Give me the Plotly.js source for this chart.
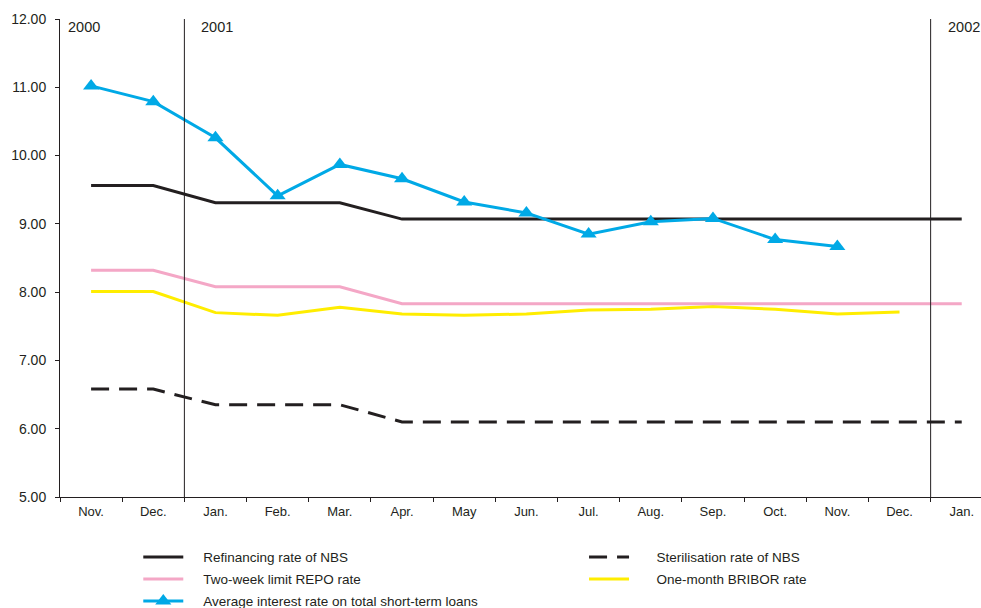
<!DOCTYPE html>
<html>
<head>
<meta charset="utf-8">
<script src="https://cdn.plot.ly/plotly-3.0.1.min.js"></script>
<style>html,body{margin:0;padding:0;background:#fff;}#chart{width:981px;height:608px;}</style>
</head>
<body>
<div id="chart"></div>
<script>
// Months from Nov. 2000 to Jan. 2002
var months = ['Nov.','Dec.','Jan.','Feb.','Mar.','Apr.','May','Jun.','Jul.','Aug.','Sep.','Oct.','Nov.','Dec.','Jan.'];
var years = ['2000','2001','2002'];

var refinancing   = [9.56, 9.56, 9.31, 9.31, 9.31, 9.07, 9.07, 9.07, 9.07, 9.07, 9.07, 9.07, 9.07, 9.07, 9.07];
var sterilisation = [6.58, 6.58, 6.35, 6.35, 6.35, 6.10, 6.10, 6.10, 6.10, 6.10, 6.10, 6.10, 6.10, 6.10, 6.10];
var repo          = [8.32, 8.32, 8.08, 8.08, 8.08, 7.83, 7.83, 7.83, 7.83, 7.83, 7.83, 7.83, 7.83, 7.83, 7.83];
var bribor        = [8.01, 8.01, 7.70, 7.66, 7.78, 7.68, 7.66, 7.68, 7.74, 7.75, 7.79, 7.75, 7.68, 7.71];
var avgLoans      = [11.02, 10.79, 10.26, 9.41, 9.87, 9.66, 9.32, 9.16, 8.85, 9.03, 9.08, 8.77, 8.67];

var idx = function(arr){ return arr.map(function(_, i){ return i; }); };
var ink = '#231F20';
var font = 'Liberation Sans, Arial, Helvetica, sans-serif';
var gap1 = '\u00a0\u00a0\u00a0\u00a0';
var gap2 = '\u00a0\u00a0\u00a0\u00a0\u00a0\u00a0';

var traces = [
  {x: idx(sterilisation), y: sterilisation, name: gap2 + 'Sterilisation rate of NBS', mode: 'lines',
   line: {color: ink, width: 3, dash: '18px,10px'}, legend: 'legend2', legendrank: 1, legendgroup: 's'},
  {x: idx(bribor), y: bribor, name: gap2 + 'One-month BRIBOR rate', mode: 'lines',
   line: {color: '#FFED00', width: 3}, legend: 'legend2', legendrank: 2, legendgroup: 'b'},
  {x: idx(repo), y: repo, name: gap1 + 'Two-week limit REPO rate', mode: 'lines',
   line: {color: '#F4A7C6', width: 3}, legend: 'legend', legendrank: 2, legendgroup: 'p'},
  {x: idx(refinancing), y: refinancing, name: gap1 + 'Refinancing rate of NBS', mode: 'lines',
   line: {color: ink, width: 3}, legend: 'legend', legendrank: 1, legendgroup: 'r'},
  {x: idx(avgLoans), y: avgLoans, name: gap1 + 'Average interest rate on total short-term loans', mode: 'lines+markers',
   line: {color: '#00A9E6', width: 3}, marker: {symbol: 'triangle-up', size: 14, color: '#00A9E6'},
   legend: 'legend', legendrank: 3, legendgroup: 'a'}
];

// year separators: boundaries before each January
var shapes = [], annotations = [];
var bounds = [-0.5];
months.forEach(function(m, i){ if (m === 'Jan.') bounds.push(i - 0.5); });
bounds.forEach(function(b, k){
  if (k > 0) {
    shapes.push({type: 'line', xref: 'x', yref: 'paper', x0: b, x1: b, y0: 0, y1: 1,
                 line: {color: ink, width: 1}});
  }
  annotations.push({xref: 'x', yref: 'paper', x: b, y: 1, xanchor: 'left', yanchor: 'top',
                    xshift: k === 0 ? 6 : 15, yshift: 2, showarrow: false, text: years[k],
                    font: {family: font, size: 14.5, color: ink}});
});

var legendFont = {family: font, size: 13.5, color: ink};
var layout = {
  width: 981, height: 608,
  margin: {l: 60, r: 0, t: 19, b: 111, autoexpand: false},
  paper_bgcolor: '#fff', plot_bgcolor: '#fff',
  font: {family: font, color: ink},
  showlegend: true,
  xaxis: {
    range: [-0.5, 14.31], showgrid: false, zeroline: false, automargin: false,
    showline: true, linecolor: ink, linewidth: 1,
    tickmode: 'array', tickvals: idx(months), ticktext: months,
    ticks: 'outside', ticklen: 2, tickcolor: 'rgba(0,0,0,0)',
    tickfont: {family: font, size: 13, color: ink},
    minor: {ticks: 'outside', ticklen: 4, tickcolor: ink, tickwidth: 1, tickmode: 'linear', tick0: 0.5, dtick: 1, showgrid: false}
  },
  yaxis: {
    range: [5, 12], dtick: 1, tickformat: '.2f', showgrid: false, zeroline: false, automargin: false,
    showline: true, linecolor: ink, linewidth: 1,
    ticks: 'outside', ticklen: 4, tickcolor: ink, ticklabelstandoff: 6,
    tickfont: {family: font, size: 14, color: ink}
  },
  legend: {x: 0.085, y: 0.109, xref: 'paper', yref: 'container', xanchor: 'left', yanchor: 'top', orientation: 'v',
           font: legendFont, bgcolor: 'rgba(0,0,0,0)', itemwidth: 40, traceorder: 'grouped', tracegroupgap: 1.5},
  legend2: {x: 0.569, y: 0.109, xref: 'paper', yref: 'container', xanchor: 'left', yanchor: 'top', orientation: 'v',
           font: legendFont, bgcolor: 'rgba(0,0,0,0)', itemwidth: 40, traceorder: 'grouped', tracegroupgap: 1.5},
  shapes: shapes,
  annotations: annotations
};

Plotly.newPlot('chart', traces, layout, {displayModeBar: false, staticPlot: true});
</script>
</body>
</html>
